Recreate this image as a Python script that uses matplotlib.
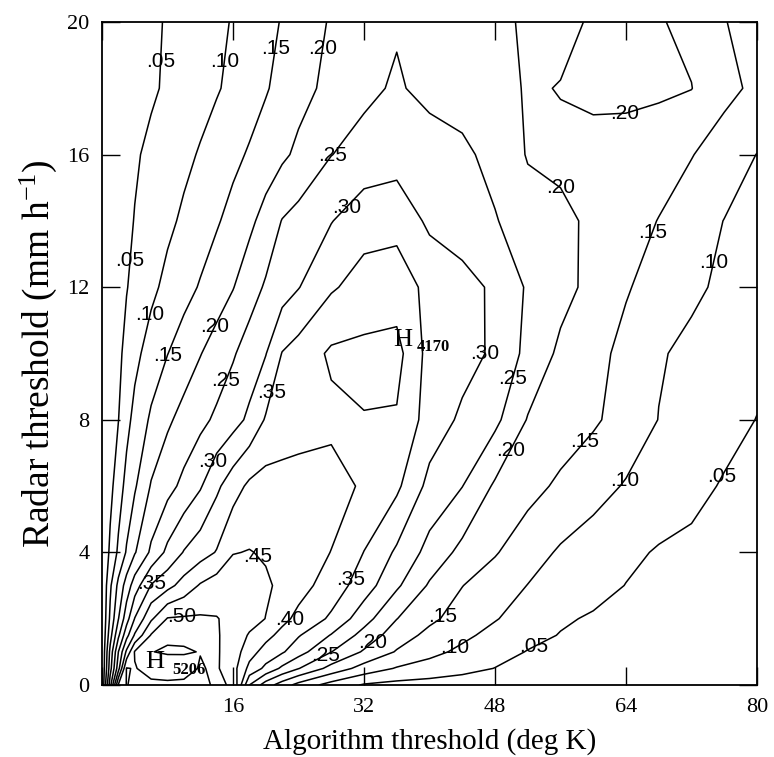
import numpy as np
import matplotlib
matplotlib.use("Agg")
import matplotlib.pyplot as plt

plt.rcParams["font.family"] = ["Liberation Serif", "DejaVu Serif"]
plt.rcParams["mathtext.fontset"] = "custom"
plt.rcParams["mathtext.rm"] = "Liberation Serif"
plt.rcParams["mathtext.it"] = "Liberation Serif:italic"

# grid
algorithm_threshold = [0, 1, 2, 3, 4, 6, 8, 10, 12, 14, 16, 18, 20, 22, 24, 28,
                       32, 36, 40, 44, 48, 52, 56, 60, 64, 68, 72, 76, 80]
radar_threshold = [0, 0.5, 1, 1.5, 2, 3, 4, 6, 8, 10, 12, 14, 16, 18, 20]

score_r0_0 = [.000, .230, .455, .502, .490, .490, .492, .492, .495, .503, .498, .300, .225, .175, .133, .080,
              .045, .035, .030, .025, .020, .015, .012, .010, .008, .006, .005, .004, .003]
score_r0_5 = [.000, .180, .330, .503, .497, .518, .521, .515, .497, .506, .470, .386, .338, .290, .252, .183,
              .130, .096, .081, .065, .049, .040, .033, .028, .024, .020, .017, .015, .013]
score_r1_0 = [.000, .164, .300, .410, .504, .501, .496, .497, .501, .505, .478, .420, .381, .356, .320, .251,
              .194, .146, .113, .090, .068, .048, .040, .034, .029, .025, .022, .020, .018]
score_r1_5 = [.000, .131, .240, .333, .406, .504, .506, .506, .505, .504, .483, .445, .415, .385, .354, .297,
              .232, .174, .137, .110, .086, .064, .048, .040, .034, .029, .025, .023, .020]
score_r2 = [.000, .110, .198, .279, .352, .442, .503, .506, .506, .502, .488, .470, .449, .414, .387, .342,
            .270, .201, .160, .130, .103, .079, .056, .045, .038, .032, .028, .025, .022]
score_r3 = [.000, .092, .163, .222, .275, .353, .384, .420, .455, .475, .480, .473, .457, .440, .419, .377,
            .325, .258, .194, .151, .125, .099, .083, .066, .049, .040, .034, .030, .027]
score_r4 = [.000, .060, .109, .155, .196, .259, .312, .353, .378, .403, .448, .452, .445, .435, .425, .399,
            .349, .292, .233, .186, .154, .121, .094, .077, .060, .046, .040, .035, .031]
score_r6 = [.000, .036, .077, .115, .144, .204, .233, .263, .295, .340, .378, .410, .420, .425, .428, .420,
            .393, .360, .285, .251, .193, .167, .141, .118, .096, .079, .063, .046, .040]
score_r8 = [.000, .025, .049, .086, .114, .158, .192, .216, .237, .259, .281, .310, .355, .362, .370, .388,
            .398, .395, .328, .291, .262, .197, .177, .157, .130, .099, .082, .065, .049]
score_r10 = [.000, .020, .040, .063, .087, .121, .149, .174, .198, .221, .245, .272, .298, .352, .370, .408,
             .412, .417, .332, .318, .292, .236, .190, .165, .137, .104, .090, .076, .062]
score_r12 = [.000, .016, .032, .048, .062, .089, .113, .133, .154, .176, .198, .228, .256, .277, .298, .344,
             .370, .375, .337, .317, .292, .244, .216, .186, .154, .131, .108, .092, .085]
score_r14 = [.000, .013, .026, .039, .052, .071, .090, .108, .126, .145, .166, .189, .218, .252, .267, .298,
             .330, .335, .290, .275, .254, .218, .205, .196, .164, .149, .124, .099, .090]
score_r16 = [.000, .011, .022, .033, .044, .061, .075, .089, .104, .121, .138, .155, .173, .191, .210, .249,
             .268, .278, .275, .262, .232, .197, .195, .185, .175, .165, .152, .127, .099]
score_r18 = [.000, .007, .014, .022, .029, .043, .057, .070, .083, .096, .111, .128, .146, .165, .184, .213,
             .239, .256, .235, .225, .212, .197, .201, .210, .215, .210, .201, .163, .140]
score_r20 = [.000, .007, .014, .021, .027, .041, .054, .066, .078, .090, .103, .120, .136, .153, .170, .205,
             .228, .245, .238, .225, .210, .194, .193, .203, .205, .203, .190, .152, .130]

score_rows = [score_r0_0, score_r0_5, score_r1_0, score_r1_5, score_r2, score_r3, score_r4, score_r6,
              score_r8, score_r10, score_r12, score_r14, score_r16, score_r18, score_r20]

contour_levels = [0.05, 0.10, 0.15, 0.20, 0.25, 0.30, 0.35, 0.40, 0.45, 0.50]

label_positions = [
    (7.1, 18.8), (3.3, 12.8), (52.6, 1.2), (75.0, 6.4),
    (15.5, 18.8), (5.7, 11.2), (43.3, 1.05), (63.7, 6.2), (73.9, 12.8),
    (21.4, 19.2), (8.4, 9.9), (42.0, 2.0), (59.1, 7.3), (67.8, 13.6),
    (27.1, 19.2), (14.0, 10.8), (33.3, 1.2), (51.3, 6.9), (58.5, 15.4), (63.7, 17.6),
    (28.1, 16.0), (14.9, 9.2), (27.5, 0.8), (50.9, 9.2),
    (29.9, 14.4), (13.1, 6.8), (47.0, 10.0),
    (20.8, 8.8), (5.9, 3.1), (30.2, 3.2),
    (22.8, 2.0), (19.2, 3.9), (9.7, 2.0),
]

high_names = ["H", "H"]
high_values = ["5206", "4170"]
high_xy = [(6.5, 0.69), (36.7, 10.4)]
high_value_xy = [(8.55, 0.45), (38.5, 10.2)]

x_ticks = [0, 16, 32, 48, 64, 80]
x_tick_labels = ["", "16", "32", "48", "64", "80"]
y_ticks = [0, 4, 8, 12, 16, 20]
y_tick_labels = ["0", "4", "8", "12", "16", "20"]

Z = np.array(score_rows)

fig = plt.figure(figsize=(7.74, 7.57), dpi=100)
ax = fig.add_axes([102 / 774, 72 / 757, 655 / 774, 663 / 757])

cs = ax.contour(algorithm_threshold, radar_threshold, Z, levels=contour_levels,
                colors="black", linewidths=1.1)
texts = ax.clabel(cs, manual=label_positions, inline=False,
                  fmt=lambda v: f"{v:.2f}".lstrip("0"), fontsize=15)
for t in texts:
    t.set_rotation(0)
    t.set_fontfamily(["Liberation Sans", "DejaVu Sans"])

for name, val, (hx, hy), (vx, vy) in zip(high_names, high_values, high_xy, high_value_xy):
    ax.text(hx, hy, name, fontsize=19, ha="center", va="center")
    ax.text(vx, vy, val, fontsize=12, fontweight="bold", ha="left", va="center")

ax.set_xlim(0, 80)
ax.set_ylim(0, 20)
ax.set_xticks(x_ticks)
ax.set_xticklabels(x_tick_labels)
ax.set_yticks(y_ticks)
ax.set_yticklabels(y_tick_labels)
ax.tick_params(direction="in", length=13, width=1.0, top=True, right=True,
               labelsize=16, pad=9)
for sp in ax.spines.values():
    sp.set_linewidth(1.3)

ax.set_xlabel("Algorithm threshold (deg K)", fontsize=21, labelpad=8)
ax.set_ylabel("Radar threshold (mm h$^{\\mathregular{-1}}$)", fontsize=27, labelpad=6)

fig.savefig("out.png", dpi=100)
